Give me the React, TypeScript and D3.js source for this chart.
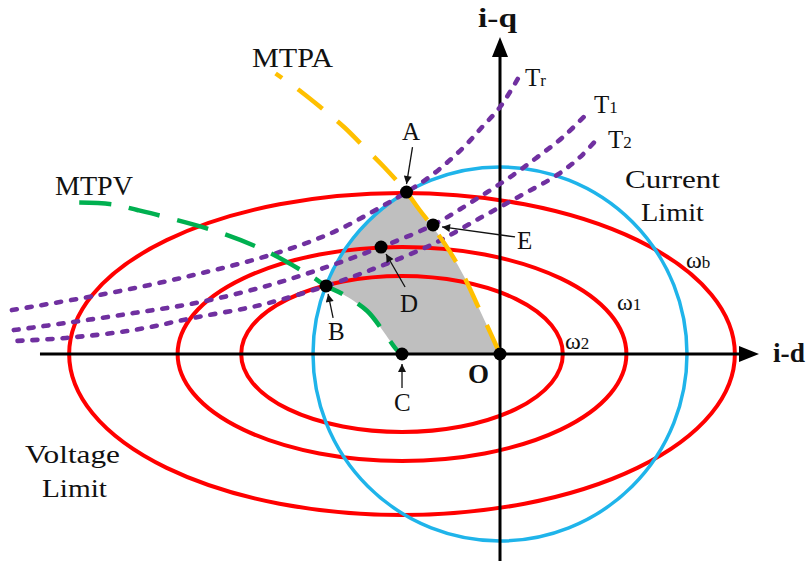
import React from "react";
import * as d3 from "d3";

const W = 807;
const H = 561;

// Currents in per-unit of the current limit (circle radius = 1)
const currentLimitRadius = 1.0;
const voltageCenterId = -0.524;
const voltageCenterIq = 0;
const speedNames = ["b", "1", "2"];
const ellipseRx = [1.78, 1.2, 0.86];
const ellipseRy = [0.861, 0.572, 0.417];

// MTPA trajectory from the origin upward
const mtpaId = [0, -0.05, -0.12, -0.19, -0.27, -0.36, -0.43, -0.5, -0.62, -0.74, -0.83, -0.96, -1.06, -1.2];
const mtpaIq = [0, 0.11, 0.26, 0.41, 0.55, 0.68, 0.77, 0.866, 1.0, 1.12, 1.21, 1.32, 1.4, 1.5];

// MTPV trajectory ending at the voltage-ellipse centre
const mtpvId = [-2.25, -2.07, -1.94, -1.78, -1.5, -1.25, -1.0, -0.93, -0.84, -0.71, -0.63, -0.55, -0.524];
const mtpvIq = [0.81, 0.8, 0.77, 0.73, 0.65, 0.55, 0.41, 0.364, 0.32, 0.23, 0.13, 0.02, 0];

// Constant-torque curves
const trId = [-2.61, -2.14, -1.66, -1.21, -0.89, -0.63, -0.5, -0.37, -0.2, -0.09, 0, 0.1];
const trIq = [0.235, 0.316, 0.417, 0.535, 0.652, 0.79, 0.866, 0.952, 1.1, 1.22, 1.32, 1.48];
const t1Id = [-2.6, -2.32, -1.96, -1.6, -1.23, -0.91, -0.636, -0.358, -0.134, 0.07, 0.2, 0.337, 0.48];
const t1Iq = [0.128, 0.166, 0.219, 0.278, 0.369, 0.471, 0.572, 0.69, 0.824, 0.957, 1.053, 1.16, 1.3];
const t2Id = [-2.58, -2.32, -1.96, -1.64, -1.28, -0.93, -0.636, -0.358, -0.107, 0.107, 0.305, 0.428, 0.524];
const t2Iq = [0.07, 0.086, 0.128, 0.193, 0.262, 0.364, 0.471, 0.588, 0.727, 0.845, 0.957, 1.053, 1.155];

// Operating points
const pointNames = ["A", "B", "C", "D", "E", "O"];
const pointId = [-0.5, -0.93, -0.524, -0.636, -0.358, 0];
const pointIq = [0.866, 0.364, 0, 0.572, 0.69, 0];

const FONT = "Liberation Serif, Times New Roman, serif";
const RED = "#ff0000";
const BLUE = "#1fb4ea";
const PURPLE = "#7030a0";
const ORANGE = "#ffc000";
const GREEN = "#00b050";

type P = [number, number];
const zip = (a: number[], b: number[]): P[] => a.map((v, i) => [v, b[i]] as P);

export default function App() {
  const x = d3.scaleLinear().domain([-1, 1]).range([313, 687]);
  const y = d3.scaleLinear().domain([-1, 1]).range([541, 167]);
  const ux = x(1) - x(0);
  const uy = y(0) - y(1);

  const line = d3
    .line<P>()
    .x((d) => x(d[0]))
    .y((d) => y(d[1]))
    .curve(d3.curveCatmullRom.alpha(0.5));

  const mtpa = zip(mtpaId, mtpaIq);
  const mtpv = zip(mtpvId, mtpvIq);
  const torque = [zip(trId, trIq), zip(t1Id, t1Iq), zip(t2Id, t2Iq)];

  const pt = (name: string) => {
    const i = pointNames.indexOf(name);
    return { px: x(pointId[i]), py: y(pointIq[i]) };
  };
  const A = pt("A");
  const B = pt("B");

  // Shaded operating region: A -> MTPA -> O -> C -> MTPV -> B -> current-limit arc -> A
  const aIdx = mtpaIq.indexOf(0.866);
  const bIdx = mtpvIq.indexOf(0.364);
  const mtpaSeg = mtpa.slice(0, aIdx + 1).reverse();
  const mtpvSeg = mtpv.slice(bIdx).reverse();
  const r = currentLimitRadius * ux;
  const region =
    (line(mtpaSeg) || "") +
    (line(mtpvSeg) || "").replace(/^M/, "L") +
    `A${r},${r} 0 0 1 ${A.px},${A.py}Z`;

  const ox = x(0);
  const oy = y(0);
  const axLeft = x(-2.46);
  const axRight = x(1.385);
  const axTop = y(1.695);
  const axBottom = H;

  const text = (s: string, tx: number, ty: number, size = 26, extra: any = {}) => (
    <text x={tx} y={ty} fontSize={size} style={{ fontFamily: FONT }} fill="#111" {...extra}>
      {s}
    </text>
  );

  const sub = (main: string, s: string, tx: number, ty: number, size = 25, subSize = 17) => (
    <text x={tx} y={ty} fontSize={size} style={{ fontFamily: FONT }} fill="#111">
      {main}
      <tspan fontSize={subSize}>{s}</tspan>
    </text>
  );

  // annotation arrows: label-side tail -> near the point
  const arrows: { from: P; to: P }[] = [
    { from: [A.px + 6, A.py - 45], to: [A.px, A.py - 8] },
    { from: [B.px + 7, B.py + 32], to: [B.px + 2, B.py + 8] },
    { from: [pt("C").px, pt("C").py + 34], to: [pt("C").px, pt("C").py + 10] },
    { from: [pt("D").px + 24, pt("D").py + 40], to: [pt("D").px + 5, pt("D").py + 7] },
    { from: [pt("E").px + 82, pt("E").py + 12], to: [pt("E").px + 9, pt("E").py + 2] },
  ];

  return (
    <svg
      width={W}
      height={H}
      viewBox={`0 0 ${W} ${H}`}
      style={{ position: "absolute", left: 0, top: 0, background: "#fff" }}
    >
      <defs>
        <marker
          id="tip"
          viewBox="0 0 10 10"
          refX="10"
          refY="5"
          markerWidth="10"
          markerHeight="8"
          markerUnits="userSpaceOnUse"
          orient="auto"
        >
          <path d="M0,0 L10,5 L0,10 Z" fill="#111" />
        </marker>
      </defs>
      <rect width={W} height={H} fill="#fff" />

      {/* operating region */}
      <path d={region} fill="#bfbfbf" stroke="none" />

      {/* voltage-limit ellipses */}
      {ellipseRx.map((rx, i) => (
        <ellipse
          key={speedNames[i]}
          cx={x(voltageCenterId)}
          cy={y(voltageCenterIq)}
          rx={rx * ux}
          ry={ellipseRy[i] * uy}
          fill="none"
          stroke={RED}
          strokeWidth={4}
        />
      ))}

      {/* current-limit circle */}
      <circle cx={ox} cy={oy} r={r} fill="none" stroke={BLUE} strokeWidth={3.5} />

      {/* axes */}
      <line x1={axLeft} y1={oy} x2={axRight - 16} y2={oy} stroke="#000" strokeWidth={3} />
      <polygon
        points={`${axRight},${oy} ${axRight - 20},${oy - 8} ${axRight - 20},${oy + 8}`}
        fill="#000"
      />
      <line x1={ox} y1={axBottom} x2={ox} y2={axTop + 16} stroke="#000" strokeWidth={3} />
      <polygon points={`${ox},${axTop} ${ox - 8},${axTop + 20} ${ox + 8},${axTop + 20}`} fill="#000" />

      {/* constant-torque curves */}
      {torque.map((c, i) => (
        <path
          key={i}
          d={line(c) || ""}
          fill="none"
          stroke={PURPLE}
          strokeWidth={4.6}
          strokeDasharray="5 10"
          strokeLinecap="round"
        />
      ))}

      {/* MTPA and MTPV trajectories */}
      <path d={line(mtpa) || ""} fill="none" stroke={ORANGE} strokeWidth={4.5} strokeDasharray="32 19" />
      <path d={line(mtpv) || ""} fill="none" stroke={GREEN} strokeWidth={4.5} strokeDasharray="32 18" />

      {/* annotation arrows */}
      {arrows.map((a, i) => (
        <line
          key={i}
          x1={a.from[0]}
          y1={a.from[1]}
          x2={a.to[0]}
          y2={a.to[1]}
          stroke="#111"
          strokeWidth={1.3}
          markerEnd="url(#tip)"
        />
      ))}

      {/* operating points */}
      {pointNames.map((n, i) => (
        <circle key={n} cx={x(pointId[i])} cy={y(pointIq[i])} r={6.5} fill="#000" />
      ))}

      {/* labels */}
      {text("i-q", 478, 27, 27, { fontWeight: "bold", textLength: 39, lengthAdjust: "spacingAndGlyphs" })}
      {text("i-d", 773, 362, 27, { fontWeight: "bold", textLength: 32, lengthAdjust: "spacingAndGlyphs" })}
      {text("MTPA", 252, 67, 27, { textLength: 81, lengthAdjust: "spacingAndGlyphs" })}
      {text("MTPV", 55, 195, 27, { textLength: 78, lengthAdjust: "spacingAndGlyphs" })}
      {text("Current", 625, 188, 26, { textLength: 95, lengthAdjust: "spacingAndGlyphs" })}
      {text("Limit", 641, 221, 26, { textLength: 63, lengthAdjust: "spacingAndGlyphs" })}
      {text("Voltage", 25, 463, 26, { textLength: 95, lengthAdjust: "spacingAndGlyphs" })}
      {text("Limit", 42, 497, 26, { textLength: 65, lengthAdjust: "spacingAndGlyphs" })}

      {text("A", 402, 140, 25)}
      {text("B", 328, 340, 25)}
      {text("C", 394, 411, 25)}
      {text("D", 400, 312, 25)}
      {text("E", 517, 249, 25)}
      {text("O", 468, 383, 27, { fontWeight: "bold" })}

      {sub("T", "r", 525, 86)}
      {sub("T", "1", 594, 113)}
      {sub("T", "2", 608, 148)}
      {sub("ω", speedNames[0], 686, 268, 24)}
      {sub("ω", speedNames[1], 617, 310, 24)}
      {sub("ω", speedNames[2], 565, 349, 24)}
    </svg>
  );
}
